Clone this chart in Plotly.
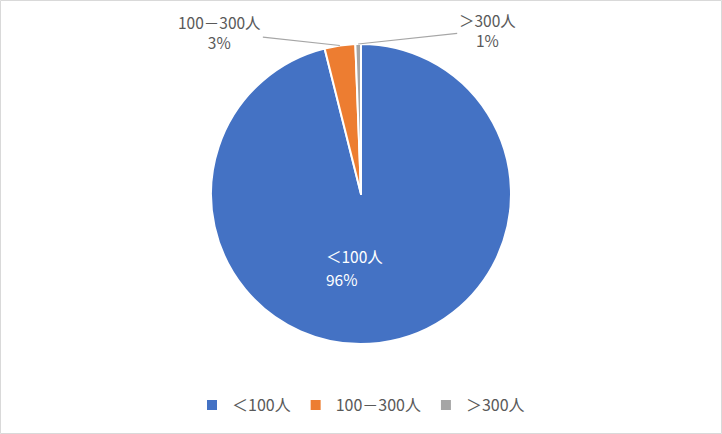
import math
import plotly.graph_objects as go

# data
labels = ["＜100人", "100－300人", "＞300人"]
values = [96.1, 3.3, 0.6]
colors = ["#4472C4", "#ED7D31", "#A5A5A5"]

W, H = 722, 434
M_T, M_B = 44, 90
PLOT_H = H - M_T - M_B
R = PLOT_H / 2
FONT = "Noto Sans CJK JP"

total = sum(values)
pcts = [round(v / total * 100) for v in values]

fig = go.Figure()
fig.add_trace(go.Pie(
    labels=labels, values=values, sort=False, direction="clockwise", rotation=0,
    marker=dict(colors=colors, line=dict(color="white", width=2)),
    textinfo="none", hoverinfo="label+percent", showlegend=True,
))

# label of the big slice, inside, left aligned like the original (two lines)
for k, line in enumerate([labels[0], f"{pcts[0]}%"]):
    fig.add_annotation(
        x=0.5 - 36 / W, y=0.5 - (62 + 23 * k) / PLOT_H, xref="paper", yref="paper",
        xanchor="left", yanchor="middle", showarrow=False, text=line, borderpad=0,
        font=dict(color="white", size=15.5, family=FONT),
    )

# outside labels with leader lines for the small slices
cum = 0
offsets = {1: (-120, -13), 2: (129, -14)}
for i, v in enumerate(values):
    mid = (cum + v / 2) / total
    cum += v
    if i not in offsets:
        continue
    ang = 2 * math.pi * mid
    ax, ay = offsets[i]
    fig.add_annotation(
        x=0.5 + R * math.sin(ang) / W, y=0.5 + R * math.cos(ang) / PLOT_H,
        xref="paper", yref="paper",
        text=f"{labels[i]}<br>{pcts[i]}%",
        showarrow=True, arrowhead=0, arrowwidth=1.2, arrowcolor="#A6A6A6",
        ax=ax, ay=ay, font=dict(color="#595959", size=15.5, family=FONT),
        align="center",
    )

# chart border
fig.add_shape(type="rect", xref="paper", yref="paper",
              x0=0.5 / W, x1=1 - 0.5 / W,
              y0=-(M_B - 0.5) / PLOT_H, y1=1 + (M_T - 0.5) / PLOT_H,
              line=dict(color="#D9D9D9", width=1))

fig.update_layout(
    width=W, height=H, margin=dict(l=0, r=0, t=M_T, b=M_B),
    paper_bgcolor="white", plot_bgcolor="white",
    font=dict(family=FONT, color="#595959", size=16),
    legend=dict(orientation="h", x=0.5, xanchor="center", y=-61 / PLOT_H, yanchor="middle",
                font=dict(size=16, color="#595959")),
)

fig.write_html("out.html", config={"displayModeBar": False},
               post_script="document.body.style.margin='0';")
